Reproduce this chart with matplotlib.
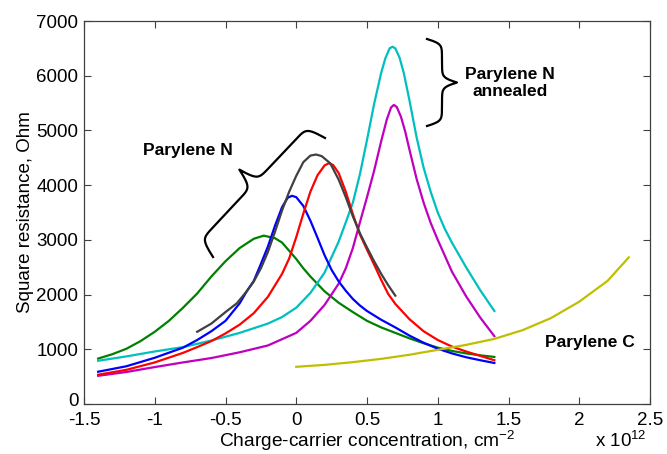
import numpy as np
import matplotlib
matplotlib.use('Agg')
import matplotlib.pyplot as plt
from matplotlib.lines import Line2D
from matplotlib.transforms import ScaledTranslation

W, H = 667, 454
plt.rcParams['font.family'] = ['Liberation Sans', 'DejaVu Sans']
plt.rcParams['mathtext.fontset'] = 'custom'
plt.rcParams['mathtext.rm'] = 'Liberation Sans'
plt.rcParams['mathtext.default'] = 'regular'

# ---- data (x in units of 1e12 cm^-2, y in Ohm) ----
green_x = [-1.4, -1.3, -1.2, -1.1, -1.0, -0.9, -0.8, -0.7, -0.6, -0.5, -0.4, -0.3, -0.23, -0.15, -0.1, -0.05, 0.0, 0.05, 0.1, 0.2, 0.3, 0.4, 0.5, 0.6, 0.7, 0.8, 0.9, 1.0, 1.1, 1.2, 1.3, 1.4]
green_y = [830, 910, 1010, 1150, 1320, 1520, 1760, 2020, 2330, 2610, 2850, 3020, 3077, 3030, 2950, 2800, 2650, 2480, 2330, 2060, 1850, 1680, 1520, 1400, 1300, 1200, 1110, 1030, 970, 925, 890, 860]

blue_x = [-1.4, -1.2, -1.0, -0.8, -0.7, -0.6, -0.5, -0.4, -0.35, -0.3, -0.25, -0.2, -0.15, -0.1, -0.06, -0.03, 0.0, 0.05, 0.1, 0.15, 0.2, 0.25, 0.3, 0.35, 0.4, 0.45, 0.5, 0.6, 0.7, 0.8, 0.9, 1.0, 1.1, 1.2, 1.3, 1.4]
blue_y = [590, 690, 845, 1030, 1170, 1330, 1520, 1840, 2060, 2250, 2560, 2880, 3260, 3600, 3770, 3805, 3780, 3620, 3350, 3040, 2720, 2450, 2240, 2070, 1920, 1800, 1700, 1540, 1400, 1250, 1120, 1010, 925, 855, 800, 750]

gray_x = [-0.7, -0.6, -0.5, -0.42, -0.35, -0.3, -0.25, -0.2, -0.15, -0.1, -0.05, 0.0, 0.05, 0.1, 0.14, 0.18, 0.24, 0.3, 0.35, 0.4, 0.45, 0.5, 0.55, 0.6, 0.65, 0.7]
gray_y = [1320, 1470, 1680, 1840, 2060, 2240, 2480, 2780, 3150, 3540, 3880, 4170, 4420, 4540, 4560, 4530, 4400, 4100, 3780, 3430, 3120, 2860, 2610, 2380, 2170, 1980]

red_x = [-1.4, -1.2, -1.0, -0.8, -0.7, -0.6, -0.5, -0.4, -0.3, -0.2, -0.1, -0.05, 0.0, 0.05, 0.1, 0.15, 0.2, 0.23, 0.26, 0.3, 0.35, 0.4, 0.45, 0.5, 0.55, 0.6, 0.65, 0.7, 0.8, 0.9, 1.0, 1.1, 1.2, 1.3, 1.4]
red_y = [535, 625, 760, 935, 1040, 1150, 1290, 1450, 1660, 1960, 2380, 2660, 3050, 3480, 3880, 4180, 4360, 4400, 4370, 4220, 3880, 3470, 3100, 2820, 2550, 2270, 2010, 1830, 1550, 1330, 1170, 1050, 960, 880, 800]

cyan_x = [-1.4, -1.2, -1.0, -0.8, -0.6, -0.4, -0.2, -0.1, 0.0, 0.1, 0.2, 0.3, 0.35, 0.4, 0.45, 0.5, 0.55, 0.6, 0.63, 0.66, 0.68, 0.7, 0.73, 0.76, 0.8, 0.85, 0.9, 0.95, 1.0, 1.05, 1.1, 1.2, 1.3, 1.4]
cyan_y = [790, 870, 960, 1040, 1160, 1300, 1470, 1590, 1760, 2030, 2400, 2970, 3320, 3680, 4200, 4826, 5480, 6050, 6320, 6500, 6530, 6500, 6330, 6050, 5550, 4880, 4320, 3880, 3500, 3200, 2950, 2500, 2080, 1700]

magenta_x = [-1.4, -1.2, -1.0, -0.8, -0.6, -0.4, -0.2, 0.0, 0.1, 0.2, 0.3, 0.35, 0.4, 0.45, 0.5, 0.55, 0.6, 0.64, 0.67, 0.69, 0.71, 0.74, 0.77, 0.8, 0.85, 0.9, 0.95, 1.0, 1.1, 1.2, 1.3, 1.4]
magenta_y = [515, 585, 675, 760, 840, 945, 1070, 1300, 1520, 1810, 2200, 2480, 2850, 3320, 3780, 4260, 4800, 5200, 5420, 5466, 5430, 5250, 4980, 4650, 4120, 3680, 3310, 3000, 2420, 1970, 1580, 1240]

yellow_x = [0.0, 0.2, 0.4, 0.6, 0.8, 1.0, 1.2, 1.4, 1.6, 1.8, 2.0, 2.2, 2.35]
yellow_y = [680, 715, 765, 825, 900, 990, 1080, 1190, 1350, 1570, 1870, 2250, 2680]

xticks = [-1.5, -1, -0.5, 0, 0.5, 1, 1.5, 2, 2.5]
xticklabels = ['-1.5', '-1', '-0.5', '0', '0.5', '1', '1.5', '2', '2.5']
yticks = [0, 1000, 2000, 3000, 4000, 5000, 6000, 7000]
yticklabels = ['0', '1000', '2000', '3000', '4000', '5000', '6000', '7000']

series = [
    (green_x, green_y, '#008000'),
    (cyan_x, cyan_y, '#00bfbf'),
    (magenta_x, magenta_y, '#bf00bf'),
    (blue_x, blue_y, '#0000ff'),
    (red_x, red_y, '#ff0000'),
    (gray_x, gray_y, '#404040'),
    (yellow_x, yellow_y, '#bfbf00'),
]

fig = plt.figure(figsize=(W / 100, H / 100), dpi=100)
ax = fig.add_axes([84 / W, 1 - 404 / H, 566 / W, 383 / H])

for xs, ys, c in series:
    ax.plot(xs, ys, color=c, lw=1.6, solid_joinstyle='round')

ax.set_xlim(-1.5, 2.5)
ax.set_ylim(0, 7000)
ax.set_xticks(xticks)
ax.set_xticklabels(xticklabels)
ax.set_yticks(yticks)
ax.set_yticklabels(yticklabels)
ax.tick_params(direction='in', length=5, width=0.8, color='#404040',
               top=True, right=True, labelsize=13.5)
ax.tick_params(axis='x', pad=5.5)
ax.tick_params(axis='y', pad=4)
for s in ax.spines.values():
    s.set_color('#404040')
    s.set_linewidth(0.9)

# nudge the y "0" label up a little so it does not collide with "-1.5"
lab0 = ax.get_yticklabels()[0]
lab0.set_transform(lab0.get_transform() + ScaledTranslation(0, 3 / 72, fig.dpi_scale_trans))

ax.set_xlabel('Charge-carrier concentration, cm$^{-2}$', fontsize=13.8, labelpad=0.5)
ax.set_ylabel('Square resistance, Ohm', fontsize=13.5, labelpad=2)

fig.text(595 / W, 1 - 447 / H, 'x 10$^{12}$', fontsize=13.5, ha='left', va='baseline')

# ---- annotations ----
fig.text(188 / W, 1 - 151 / H, 'Parylene N', fontsize=12.5, fontweight='bold',
         ha='center', va='center')
fig.text(510 / W, 1 - 83 / H, 'Parylene N\nannealed', fontsize=12.5, fontweight='bold',
         ha='center', va='center', linespacing=1.15)
fig.text(590 / W, 1 - 343 / H, 'Parylene C', fontsize=12.5, fontweight='bold',
         ha='center', va='center')


def brace(p0, p1, tip, beta, n=300):
    p0 = np.asarray(p0, float)
    p1 = np.asarray(p1, float)
    tip = np.asarray(tip, float)
    d = p1 - p0
    L = np.hypot(*d)
    u = d / L
    perp = np.array([-u[1], u[0]])
    w = np.dot(tip - p0, perp)
    if w < 0:
        perp = -perp
        w = -w
    t = np.linspace(0, L / 2, n)
    y = 1 / (1 + np.exp(-beta * (t - t[0]))) + 1 / (1 + np.exp(-beta * (t - t[-1])))
    y = np.concatenate([y, y[-2::-1]])
    y = (y - y[0]) / (y[n - 1] - y[0]) * w
    s = np.concatenate([t, L - t[-2::-1]])
    pts = p0[None, :] + s[:, None] * u[None, :] + y[:, None] * perp[None, :]
    return pts


for p0, p1, tip, beta in [((213, 257), (325, 138), (239, 170), 0.38),
                          ((427, 39), (427, 126), (457, 82), 0.42)]:
    pts = brace(p0, p1, tip, beta)
    fig.add_artist(Line2D(pts[:, 0] / W, 1 - pts[:, 1] / H,
                          transform=fig.transFigure, color='black', lw=1.6))

fig.savefig('out.png', dpi=100)
